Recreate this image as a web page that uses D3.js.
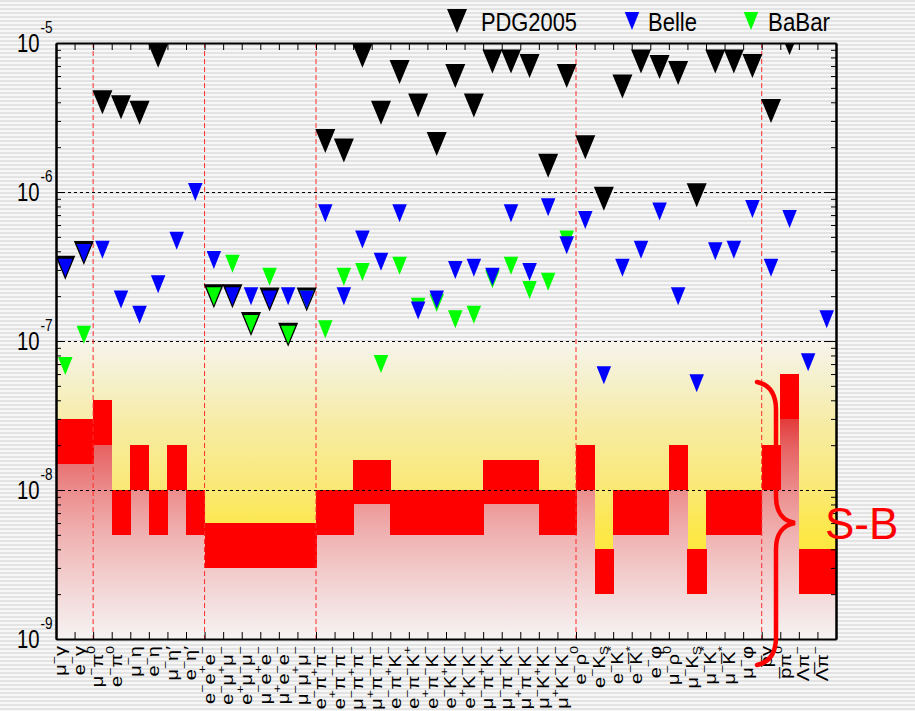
<!DOCTYPE html>
<html>
<head>
<meta charset="utf-8">
<script src="https://cdn.jsdelivr.net/npm/d3@7"></script>
<style>
  body { margin: 0; background: #fff; }
  svg { display: block; }
  text { font-family: "Liberation Sans", Arial, Helvetica, sans-serif; }
</style>
</head>
<body>
<svg id="chart" width="915" height="711"></svg>
<script>
// Decay modes: "^x" = superscript x, "_x" = subscript x
const categories = [
  "μ^−γ", "e^−γ",
  "μ^−π^0", "e^−π^0", "μ^−η", "e^−η", "μ^−η′", "e^−η′",
  "e^−e^+e^−", "e^−μ^+μ^−", "e^+μ^−μ^−", "μ^−e^+e^−", "μ^+e^−e^−", "μ^−μ^+μ^−",
  "e^−π^+π^−", "e^+π^−π^−", "μ^−π^+π^−", "μ^+π^−π^−", "e^−π^+K^−", "e^−π^−K^+", "e^+π^−K^−",
  "e^−K^+K^−", "e^+K^−K^−", "μ^−π^+K^−", "μ^−π^−K^+", "μ^+π^−K^−", "μ^−K^+K^−", "μ^+K^−K^−",
  "e^−ρ^0", "e^−K_S", "e^−K^*", "e^−K̅^*", "e^−φ", "μ^−ρ^0", "μ^−K_S", "μ^−K^*", "μ^−K̅^*", "μ^−φ",
  "p̅γ", "p̅π^0", "Λπ^−", "Λ̅π^−"
];

// Upper limits (90% CL); null = no entry
const pdg2005 = [
  3.1e-7, 3.9e-7,
  4.0e-6, 3.7e-6, 3.4e-6, 8.2e-6, null, null,
  2.0e-7, 2.0e-7, 1.3e-7, 1.9e-7, 1.1e-7, 1.9e-7,
  2.2e-6, 1.9e-6, 8.2e-6, 3.4e-6, 6.4e-6, 3.8e-6, 2.1e-6,
  6.0e-6, 3.8e-6, 7.5e-6, 7.5e-6, 7.0e-6, 1.5e-6, 6.0e-6,
  2.0e-6, 9.0e-7, 5.1e-6, 7.5e-6, 6.9e-6, 6.3e-6, 9.5e-7, 7.5e-6, 7.5e-6, 7.0e-6,
  3.5e-6, 1.0e-5, null, null
];
const belle = [
  3.1e-7, 3.9e-7,
  4.1e-7, 1.9e-7, 1.5e-7, 2.4e-7, 4.7e-7, 1.0e-6,
  3.5e-7, 2.0e-7, 2.0e-7, 1.9e-7, 2.0e-7, 1.9e-7,
  7.2e-7, 2.0e-7, 4.8e-7, 3.4e-7, 7.2e-7, 1.6e-7, 1.9e-7,
  3.0e-7, 3.1e-7, 2.7e-7, 7.2e-7, 2.9e-7, 7.9e-7, 4.4e-7,
  6.5e-7, 5.9e-8, 3.1e-7, 4.1e-7, 7.4e-7, 2.0e-7, 5.2e-8, 4.0e-7, 4.1e-7, 7.7e-7,
  3.1e-7, 6.6e-7, 7.2e-8, 1.4e-7
];
const babar = [
  6.8e-8, 1.1e-7,
  null, null, null, null, null, null,
  2.0e-7, 3.3e-7, 1.3e-7, 2.7e-7, 1.1e-7, 1.9e-7,
  1.2e-7, 2.7e-7, 2.9e-7, 7.0e-8, 3.2e-7, 1.7e-7, 1.8e-7,
  1.4e-7, 1.5e-7, 2.6e-7, 3.2e-7, 2.2e-7, 2.5e-7, 4.8e-7,
  null, null, null, null, null, null, null, null, null, null,
  null, null, null, null
];

// Expected reach band (S-B): lower and upper edge per mode
const sbLow = [
  1.5e-8, 1.5e-8,
  2e-8, 5e-9, 1e-8, 5e-9, 1e-8, 5e-9,
  3e-9, 3e-9, 3e-9, 3e-9, 3e-9, 3e-9,
  5e-9, 5e-9, 8e-9, 8e-9, 5e-9, 5e-9, 5e-9, 5e-9, 5e-9, 8e-9, 8e-9, 8e-9, 5e-9, 5e-9,
  1e-8, 2e-9, 5e-9, 5e-9, 5e-9, 1e-8, 2e-9, 5e-9, 5e-9, 5e-9,
  1e-8, 3e-8, 2e-9, 2e-9
];
const sbHigh = [
  3e-8, 3e-8,
  4e-8, 1e-8, 2e-8, 1e-8, 2e-8, 1e-8,
  6e-9, 6e-9, 6e-9, 6e-9, 6e-9, 6e-9,
  1e-8, 1e-8, 1.6e-8, 1.6e-8, 1e-8, 1e-8, 1e-8, 1e-8, 1e-8, 1.6e-8, 1.6e-8, 1.6e-8, 1e-8, 1e-8,
  2e-8, 4e-9, 1e-8, 1e-8, 1e-8, 2e-8, 4e-9, 1e-8, 1e-8, 1e-8,
  2e-8, 6e-8, 4e-9, 4e-9
];

// Group boundaries (after this many modes)
const groupBreaks = [2, 8, 14, 28, 38];
const majorTicks = [1e-5, 1e-6, 1e-7, 1e-8, 1e-9];
const majorExponents = ["-5", "-6", "-7", "-8", "-9"];
const gridLevels = [1e-6, 1e-7, 1e-8];
const legendItems = [
  { name: "PDG2005", color: "#000000", big: true },
  { name: "Belle", color: "#0000ff", big: false },
  { name: "BaBar", color: "#00ff00", big: false }
];

const W = 915, H = 711;
const plot = { left: 56, right: 836, top: 43, bottom: 639 };

const svg = d3.select("#chart");
const defs = svg.append("defs");

// pinstripe background
const pat = defs.append("pattern").attr("id", "stripes")
  .attr("width", 4).attr("height", 4).attr("patternUnits", "userSpaceOnUse");
pat.append("rect").attr("width", 4).attr("height", 4).attr("fill", "#f7f7f7");
pat.append("rect").attr("width", 4).attr("height", 2).attr("fill", "#e3e3e3");

const x = d3.scaleBand().domain(d3.range(categories.length)).range([plot.left, plot.right]);
const xEdge = d3.scaleLinear().domain([0, categories.length]).range([plot.left, plot.right]);
const y = d3.scaleLog().domain([1e-9, 1e-5]).range([plot.bottom, plot.top]);

// gradients
const yellow = defs.append("linearGradient").attr("id", "yellowGrad")
  .attr("gradientUnits", "userSpaceOnUse")
  .attr("x1", 0).attr("x2", 0).attr("y1", y(1e-7)).attr("y2", 600);
[[0, "#f6f4ec"], [0.15, "#f5f0cc"], [0.305, "#f7eca8"], [0.46, "#f9ea8a"],
 [0.575, "#fae874"], [0.707, "#fce850"], [0.826, "#fde83c"], [1, "#fde83a"]]
  .forEach(([o, c]) => yellow.append("stop").attr("offset", o).attr("stop-color", c));

const pink = defs.append("linearGradient").attr("id", "pinkGrad")
  .attr("gradientUnits", "userSpaceOnUse")
  .attr("x1", 0).attr("x2", 0).attr("y1", 375).attr("y2", plot.bottom);
[[0, "#e01818"], [0.17, "#e43c3c"], [0.27, "#e66262"], [0.436, "#ec8c8c"],
 [0.606, "#f0b2b2"], [0.814, "#f3d6d6"], [1, "#f6f3f3"]]
  .forEach(([o, c]) => pink.append("stop").attr("offset", o).attr("stop-color", c));

defs.append("clipPath").attr("id", "plotClip").append("rect")
  .attr("x", plot.left).attr("y", plot.top)
  .attr("width", plot.right - plot.left).attr("height", plot.bottom - plot.top);

svg.append("rect").attr("width", W).attr("height", H).attr("fill", "url(#stripes)");

// band background
svg.append("rect")
  .attr("x", plot.left).attr("y", y(1e-7))
  .attr("width", plot.right - plot.left).attr("height", plot.bottom - y(1e-7))
  .attr("fill", "url(#yellowGrad)");

const bands = svg.append("g").attr("shape-rendering", "crispEdges");
bands.selectAll("rect.below").data(categories).join("rect").attr("class", "below")
  .attr("x", (d, i) => x(i)).attr("width", x.bandwidth() + 0.5)
  .attr("y", (d, i) => y(sbLow[i])).attr("height", (d, i) => plot.bottom - y(sbLow[i]))
  .attr("fill", "url(#pinkGrad)");
bands.selectAll("rect.sb").data(categories).join("rect").attr("class", "sb")
  .attr("x", (d, i) => x(i)).attr("width", x.bandwidth() + 0.5)
  .attr("y", (d, i) => y(sbHigh[i])).attr("height", (d, i) => y(sbLow[i]) - y(sbHigh[i]))
  .attr("fill", "#ff0000");

// grid
svg.append("g").selectAll("line").data(gridLevels).join("line")
  .attr("x1", plot.left).attr("x2", plot.right + 1)
  .attr("y1", d => Math.round(y(d)) + 0.5).attr("y2", d => Math.round(y(d)) + 0.5)
  .attr("stroke", "#000").attr("stroke-width", 1).attr("stroke-dasharray", "3,3");

svg.append("g").selectAll("line").data(groupBreaks).join("line")
  .attr("x1", d => xEdge(d)).attr("x2", d => xEdge(d))
  .attr("y1", plot.top).attr("y2", plot.bottom)
  .attr("stroke", "#ff2a2a").attr("stroke-width", 1).attr("stroke-dasharray", "5,3");

// axes
const minorTicks = [];
for (let e = -9; e < -5; e++) for (let m = 2; m <= 9; m++) minorTicks.push(m * Math.pow(10, e));

function styleAxis(g) {
  g.selectAll("path.domain").attr("stroke", "#000").attr("stroke-width", 2);
  g.selectAll(".tick line").attr("stroke", "#000").attr("stroke-width", 1);
  g.selectAll(".tick text").remove();
}
svg.append("g").attr("transform", `translate(${plot.left},0)`)
  .call(d3.axisLeft(y).tickValues(minorTicks).tickSize(-5).tickSizeOuter(0).tickFormat(""))
  .call(styleAxis);
svg.append("g").attr("transform", `translate(${plot.left},0)`)
  .call(d3.axisLeft(y).tickValues(majorTicks).tickSize(-9).tickSizeOuter(0).tickFormat(""))
  .call(styleAxis);
svg.append("g").attr("transform", `translate(${plot.right},0)`)
  .call(d3.axisRight(y).tickValues(minorTicks).tickSize(-5).tickSizeOuter(0).tickFormat(""))
  .call(styleAxis);
svg.append("g").attr("transform", `translate(${plot.right},0)`)
  .call(d3.axisRight(y).tickValues(majorTicks).tickSize(-9).tickSizeOuter(0).tickFormat(""))
  .call(styleAxis);
svg.append("g").attr("transform", `translate(0,${plot.top})`)
  .call(d3.axisTop(xEdge).tickValues(d3.range(1, categories.length)).tickSize(-7).tickSizeOuter(0).tickFormat(""))
  .call(styleAxis);
svg.append("g").attr("transform", `translate(0,${plot.bottom})`)
  .call(d3.axisBottom(xEdge).tickValues(d3.range(1, categories.length)).tickSize(-7).tickSizeOuter(0).tickFormat(""))
  .call(styleAxis);

// y tick labels 10^n
const yl = svg.append("g");
majorTicks.forEach((v, i) => {
  yl.append("text").attr("transform", `translate(17,${y(v) + 9}) scale(0.78,1)`)
    .attr("font-size", 26).attr("fill", "#000").text("10");
  yl.append("text").attr("transform", `translate(40.5,${y(v) - 10.5}) scale(0.8,1)`)
    .attr("font-size", 17).attr("fill", "#000").text(majorExponents[i]);
});

// markers
const tri = (w, h) => `M${-w / 2},${-h / 2}H${w / 2}L0,${h / 2}Z`;
const bigTri = tri(20, 24), smallTri = tri(14.5, 18);
const marks = svg.append("g").attr("clip-path", "url(#plotClip)");
function drawSeries(values, shape, color) {
  marks.append("g").selectAll("path")
    .data(values.map((v, i) => ({ v, i })).filter(d => d.v != null))
    .join("path")
    .attr("d", shape)
    .attr("transform", d => `translate(${x(d.i) + x.bandwidth() / 2},${y(d.v)})`)
    .attr("fill", color);
}
drawSeries(pdg2005, bigTri, "#000000");
drawSeries(babar, smallTri, "#00ff00");
drawSeries(belle, smallTri, "#0000ff");

// x labels (rotated)
function tokens(s) {
  const out = [];
  const chars = Array.from(s);
  for (let k = 0; k < chars.length; k++) {
    let c = chars[k], kind = "main";
    if (c === "^" || c === "_") { kind = c === "^" ? "sup" : "sub"; c = chars[++k]; }
    while (k + 1 < chars.length && /[\u0300-\u036f]/.test(chars[k + 1])) c += chars[++k];
    out.push({ c, kind });
  }
  return out;
}
const xl = svg.append("g");
categories.forEach((lab, i) => {
  const t = xl.append("text")
    .attr("transform", `translate(${x(i) + x.bandwidth() / 2 + 1},646) scale(0.8,1) rotate(-90)`)
    .attr("text-anchor", "end").attr("font-size", 20).attr("fill", "#000");
  let shift = 0;
  tokens(lab).forEach(tk => {
    const target = tk.kind === "sup" ? -10.5 : tk.kind === "sub" ? 4 : 0;
    const ts = t.append("tspan").attr("dy", target - shift).text(tk.c);
    if (tk.kind !== "main") ts.attr("font-size", 14);
    shift = target;
  });
});

// legend
const legendX = [457, 632, 751];
const legendTextX = [481, 648, 768];
const legendLen = [96, 49, 62];
legendItems.forEach((it, i) => {
  svg.append("path").attr("d", it.big ? bigTri : smallTri)
    .attr("transform", `translate(${legendX[i]},21)`)
    .attr("fill", it.color);
  svg.append("text").attr("x", legendTextX[i]).attr("y", 31)
    .attr("font-size", 26).attr("fill", "#000")
    .attr("textLength", legendLen[i]).attr("lengthAdjust", "spacingAndGlyphs")
    .text(it.name);
});

// brace marking the S-B reach
svg.append("path")
  .attr("d", "M757,382 C771,385 776,395 776,410 L776,497 C776,512 783,521 795,523 C783,525 776,534 776,549 L776,637 C776,652 771,662 757,665")
  .attr("fill", "none").attr("stroke", "#ff0000").attr("stroke-width", 4.5)
  .attr("stroke-linecap", "round").attr("stroke-linejoin", "miter");
svg.append("text").attr("x", 825).attr("y", 539)
  .attr("font-size", 44).attr("fill", "#ff0000").text("S-B");
</script>
</body>
</html>
